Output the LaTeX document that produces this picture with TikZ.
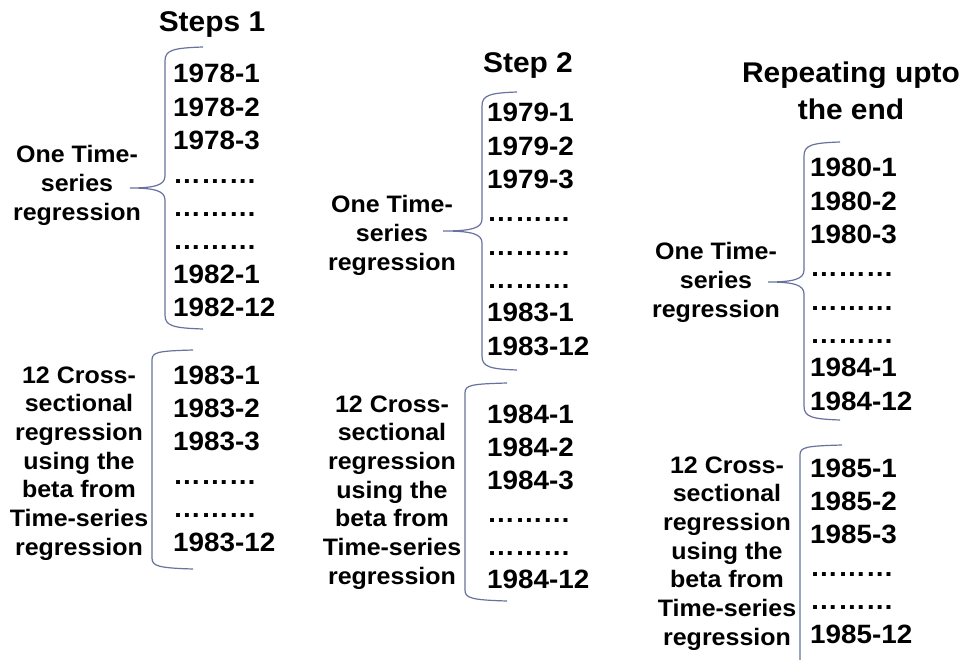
\documentclass[tikz,border=0pt]{standalone}
\usepackage{fontspec}
\setmainfont{Liberation Sans}[FakeStretch=1.05]
\definecolor{braceblue}{RGB}{104,114,158}
\newcommand{\curlybrace}[6]{% #1 spine x, #2 top y, #3 bottom y, #4 tip x, #5 tip y, #6 end x
  \draw[brc] (#6,#2) .. controls ({#1+8},{#2+1}) and (#1,{#2+3}) .. (#1,{#2+14})
    -- (#1,{#5-12}) .. controls (#1,{#5-3}) and ({#1-10},#5) .. (#4,#5)
    .. controls ({#1-10},#5) and (#1,{#5+3}) .. (#1,{#5+12})
    -- (#1,{#3-14}) .. controls (#1,{#3-3}) and ({#1+8},{#3-1}) .. (#6,#3);}
\newcommand{\squarebracket}[4]{% #1 spine x, #2 top y, #3 bottom y, #4 end x
  \draw[brc] (#4,#2) .. controls ({#1+6},{#2+1}) and (#1,{#2+2}) .. (#1,{#2+10})
    -- (#1,{#3-10}) .. controls (#1,{#3-2}) and ({#1+6},#3) .. (#4,{#3+1});}
\newcommand{\dotrow}{………}
\begin{document}
\begin{tikzpicture}[x=1pt,y=-1pt,
  yr/.style={anchor=base west, inner sep=0pt, font=\fontsize{26.5}{30}\selectfont\bfseries},
  lab/.style={anchor=base, inner sep=0pt, font=\fontsize{23.8}{28}\selectfont\bfseries},
  ttl/.style={anchor=base, inner sep=0pt, font=\fontsize{28.5}{34}\selectfont\bfseries},
  brc/.style={draw=braceblue, line width=1.2pt}]
\useasboundingbox[fill=white] (0,0) rectangle (969,660);

% Titles
\node[ttl] (t1) at (212,32) {Steps 1};
\node[ttl] (t2) at (528,73) {Step 2};
\node[ttl] (t3a) at (851,83) {Repeating upto};
\node[ttl] (t3b) at (851,120) {the end};

% Column 1
\foreach \t [count=\i from 0] in {1978-1,1978-2,1978-3,\dotrow,\dotrow,\dotrow,1982-1,1982-12}
  \node[yr] (a\i) at (173,{83+33.4*\i}) {\t};
\foreach \t [count=\i from 0] in {1983-1,1983-2,1983-3,\dotrow,\dotrow,1983-12}
  \node[yr] (b\i) at (173,{384+33.4*\i}) {\t};
\foreach \t [count=\i from 0] in {One Time-,series,regression}
  \node[lab] (la\i) at (77,{163+28.7*\i}) {\t};
\foreach \t [count=\i from 0] in {12 Cross-,sectional,regression,using the,beta from,Time-series,regression}
  \node[lab] (lb\i) at (79,{383+28.7*\i}) {\t};
\curlybrace{165}{47}{329}{130}{188}{203}
\squarebracket{152}{350}{568}{193}

% Column 2
\foreach \t [count=\i from 0] in {1979-1,1979-2,1979-3,\dotrow,\dotrow,\dotrow,1983-1,1983-12}
  \node[yr] (c\i) at (487,{122+33.3*\i}) {\t};
\foreach \t [count=\i from 0] in {1984-1,1984-2,1984-3,\dotrow,\dotrow,1984-12}
  \node[yr] (d\i) at (487,{423+33*\i}) {\t};
\foreach \t [count=\i from 0] in {One Time-,series,regression}
  \node[lab] (lc\i) at (392,{213+28.7*\i}) {\t};
\foreach \t [count=\i from 0] in {12 Cross-,sectional,regression,using the,beta from,Time-series,regression}
  \node[lab] (ld\i) at (392,{412+28.7*\i}) {\t};
\curlybrace{482}{92}{370}{443}{231}{517}
\squarebracket{465}{383}{600}{507}

% Column 3
\foreach \t [count=\i from 0] in {1980-1,1980-2,1980-3,\dotrow,\dotrow,\dotrow,1984-1,1984-12}
  \node[yr] (e\i) at (810,{177+33.3*\i}) {\t};
\foreach \t [count=\i from 0] in {1985-1,1985-2,1985-3,\dotrow,\dotrow,1985-12}
  \node[yr] (f\i) at (810,{477+33.2*\i}) {\t};
\foreach \t [count=\i from 0] in {One Time-,series,regression}
  \node[lab] (le\i) at (716,{260+28.7*\i}) {\t};
\foreach \t [count=\i from 0] in {12 Cross-,sectional,regression,using the,beta from,Time-series,regression}
  \node[lab] (lf\i) at (727,{473+28.7*\i}) {\t};
\curlybrace{804}{142}{420}{768}{282}{840}
\draw[brc] (842,445) .. controls (806,446) and (800,447) .. (800,455) -- (800,660);
\end{tikzpicture}
\end{document}
